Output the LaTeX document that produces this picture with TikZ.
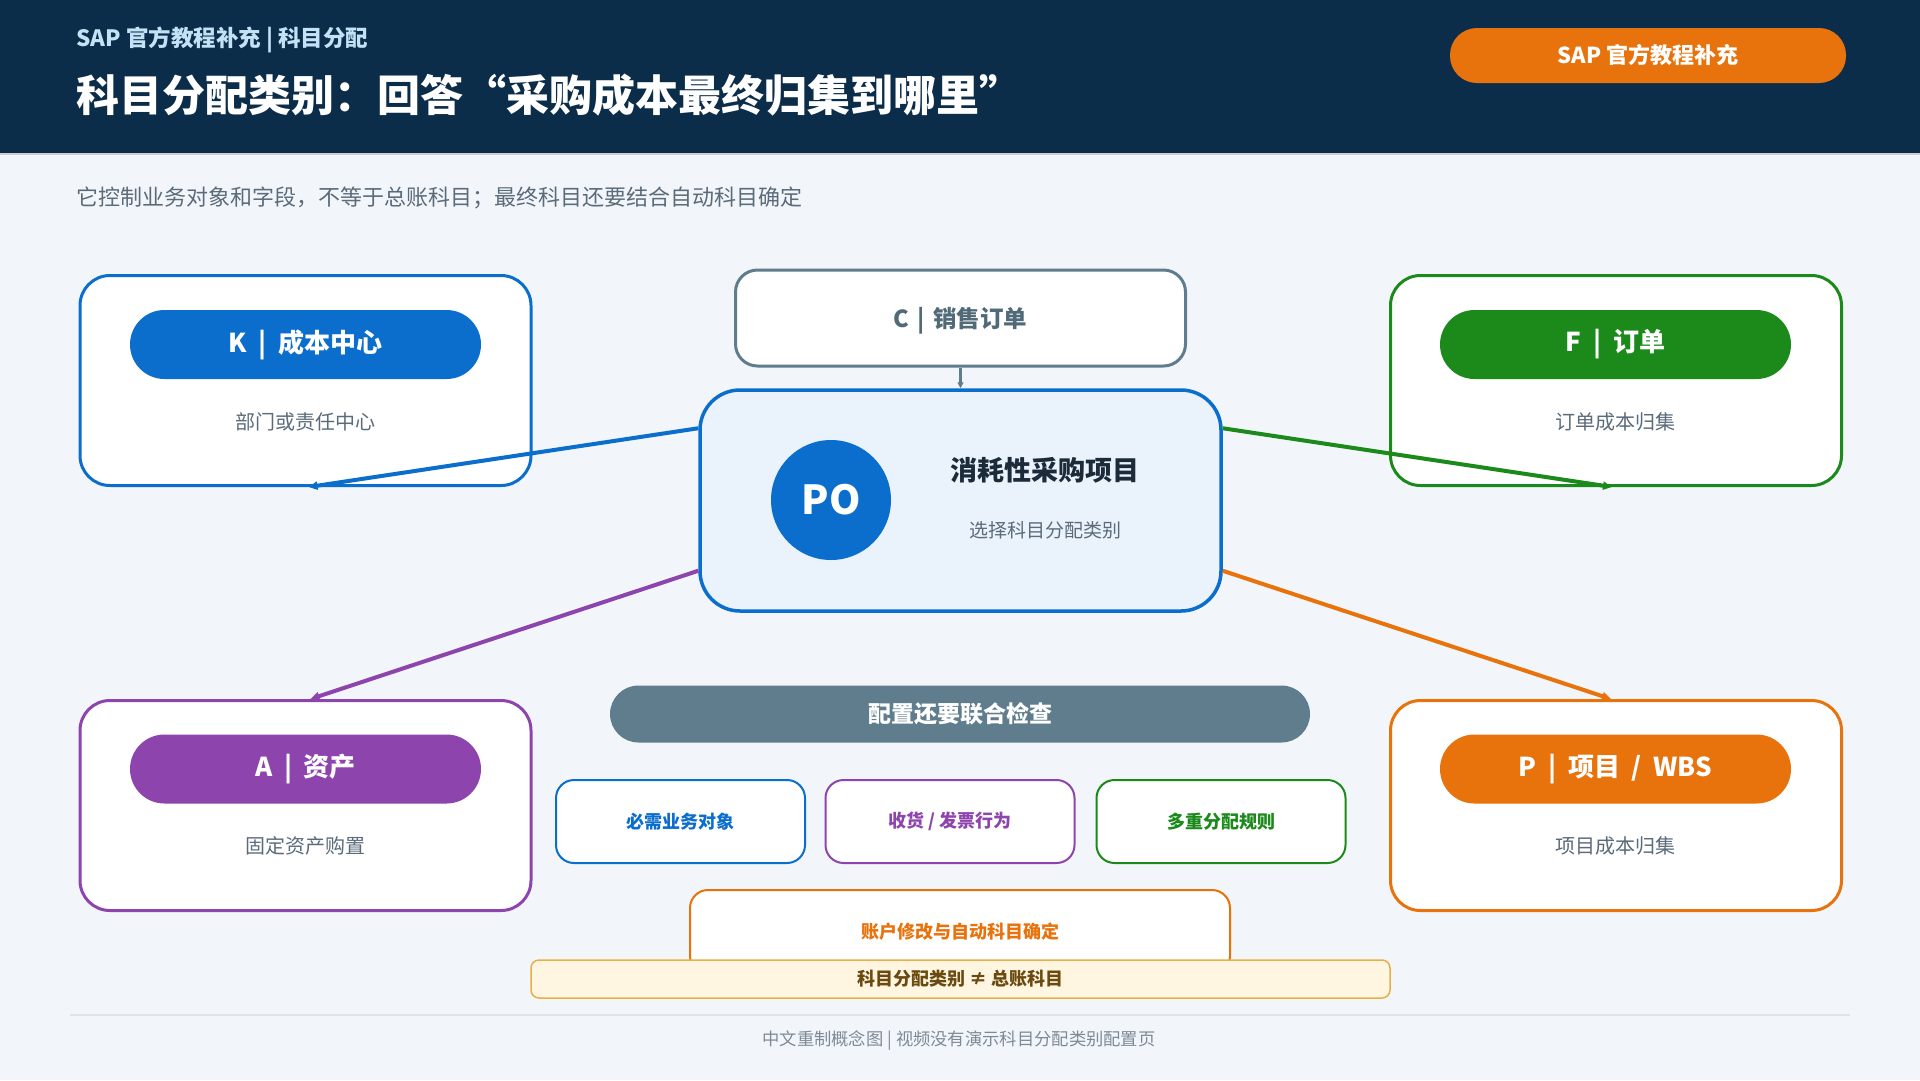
\documentclass[tikz,border=0pt]{standalone}
\usepackage{fontspec}
\setmainfont{Noto Sans CJK SC}
\usetikzlibrary{arrows.meta,calc}
\definecolor{navy}{HTML}{0C2D4A}
\definecolor{cblue}{HTML}{0B6ECD}
\definecolor{cgreen}{HTML}{1B8A1B}
\definecolor{cpurple}{HTML}{8E44AD}
\definecolor{corange}{HTML}{E8730C}
\definecolor{slate}{HTML}{5F7D8C}
\definecolor{bgc}{HTML}{F2F6FA}
\definecolor{pofill}{HTML}{EAF2FC}
\definecolor{subtxt}{HTML}{5B6B7A}
\definecolor{lightsub}{HTML}{C4E2F6}
\definecolor{darktxt}{HTML}{1C2B39}
\definecolor{barfill}{HTML}{FFF6E2}
\definecolor{barline}{HTML}{E9AE45}
\definecolor{bartxt}{HTML}{6B4A10}
\definecolor{sepline}{HTML}{DCE3EA}
\definecolor{foottxt}{HTML}{7D8A96}
\newcommand{\fs}[1]{\fontsize{#1}{#1}\selectfont}
\newcommand{\wsp}{\hspace{0.45em}}
\tikzset{
  bigbox/.style={draw=#1, line width=3pt, rounded corners=30pt, fill=white,
    minimum width=451pt, minimum height=210pt, inner sep=0pt},
  pill/.style={fill=#1, rounded corners=34.5pt, minimum width=351pt, minimum height=69pt,
    text=white, font=\bfseries\fs{26}, inner sep=0pt},
  subnote/.style={text=subtxt, font=\fs{20}, inner sep=0pt},
  conn/.style={draw=#1, line width=4pt, -{Triangle[length=9pt,width=8pt]}},
  checkbox/.style={draw=#1, line width=2pt, rounded corners=18pt, fill=white,
    minimum width=249pt, minimum height=83pt, text=#1, font=\bfseries\fs{18}, inner sep=0pt},
  plain/.style={inner sep=0pt}
}
\begin{document}
\begin{tikzpicture}[x=1pt,y=-1pt]
\useasboundingbox (0,0) rectangle (1920,1080);
\fill[bgc] (0,0) rectangle (1920,1080);
% header
\fill[navy] (0,0) rectangle (1920,154);
\draw[line width=1.5pt, color=sepline!80!gray] (0,154) -- (1920,154);
\node[plain, anchor=west, text=lightsub, font=\bfseries\fs{22.5}] (kicker) at (76,40) {SAP 官方教程补充 | 科目分配};
\node[plain, anchor=west, text=white, font=\bfseries\fs{43}] (title) at (76,95) {科目分配类别：回答“采购成本最终归集到哪里”};
\node[fill=corange, rounded corners=27pt, minimum width=396pt, minimum height=55pt, inner sep=0pt,
  text=white, font=\bfseries\fs{22}] (badge) at (1648,55.5) {SAP 官方教程补充};
\node[plain, anchor=west, text=subtxt, font=\fs{22}] (desc) at (76,198) {它控制业务对象和字段，不等于总账科目；最终科目还要结合自动科目确定};

% category boxes
\node[bigbox=cblue] (K) at (305.5,380.5) {};
\node[pill=cblue] (Kp) at (305.5,344.5) {K\wsp{}|\wsp{}成本中心};
\node[subnote] (Ks) at (305.5,422) {部门或责任中心};

\node[bigbox=cgreen] (F) at (1616,380.5) {};
\node[pill=cgreen] (Fp) at (1615.5,344.5) {F\wsp{}|\wsp{}订单};
\node[subnote] (Fs) at (1615.5,422) {订单成本归集};

\node[bigbox=cpurple] (A) at (305.5,805.5) {};
\node[pill=cpurple] (Ap) at (305.5,769) {A\wsp{}|\wsp{}资产};
\node[subnote] (As) at (305.5,846) {固定资产购置};

\node[bigbox=corange] (P) at (1616,805.5) {};
\node[pill=corange] (Pp) at (1615.5,769) {P\wsp{}|\wsp{}项目\wsp{}/\wsp{}WBS};
\node[subnote] (Ps) at (1615.5,846) {项目成本归集};

% C box
\node[draw=slate, line width=3pt, rounded corners=22pt, fill=white, minimum width=450pt,
  minimum height=96pt, inner sep=0pt] (C) at (960.5,318) {};
\node[plain, text=slate!85!black, font=\bfseries\fs{23.5}] (Ct) at (960.5,320.5) {C\hspace{0.35em}|\hspace{0.35em}销售订单};

% PO box
\node[draw=cblue, line width=3.5pt, rounded corners=40pt, fill=pofill, minimum width=521pt,
  minimum height=221pt, inner sep=0pt] (PO) at (960.5,500.5) {};
\node[circle, fill=cblue, minimum size=120pt, inner sep=0pt, text=white, font=\bfseries\fs{40}] (poc) at (831,500) {PO};
\node[plain, text=darktxt, font=\bfseries\fs{27}] (pot) at (1045,470) {消耗性采购项目};
\node[plain, text=subtxt, font=\fs{19}] (pos) at (1045,530) {选择科目分配类别};

% connectors
\draw[draw=slate, line width=2.5pt, -{Triangle[length=6pt,width=6pt]}] (C.south) -- (PO.north);
\coordinate (POlt) at ($(PO.north west)+(0,40)$);
\coordinate (POlb) at ($(PO.south west)+(0,-42)$);
\coordinate (PObrt) at ($(PO.north east)+(0,40)$);
\coordinate (PObrb) at ($(PO.south east)+(0,-42)$);
\draw[conn=cblue] (POlt) -- ($(K.south)+(3,0)$);
\draw[conn=cgreen] (PObrt) -- ($(F.south)+(-4,0)$);
\draw[conn=cpurple] (POlb) -- ($(A.north)+(5,0)$);
\draw[conn=corange] (PObrb) -- ($(P.north)+(-5,0)$);

% check section
\node[fill=slate, rounded corners=28.5pt, minimum width=700pt, minimum height=57pt, inner sep=0pt,
  text=white, font=\bfseries\fs{23}] (chk) at (960,714) {配置还要联合检查};
\node[checkbox=cblue] (b1) at (680.5,821.5) {必需业务对象};
\node[checkbox=cpurple] (b2) at (950,821.5) {收货 / 发票行为};
\node[checkbox=cgreen] (b3) at (1221,821.5) {多重分配规则};
\node[draw=corange, line width=2pt, rounded corners=18pt, fill=white, minimum width=540pt,
  minimum height=84pt, inner sep=0pt] (acct) at (960,932) {};
\node[plain, text=corange, font=\bfseries\fs{18}] (acctt) at (960,932) {账户修改与自动科目确定};
\node[draw=barline, line width=1.5pt, rounded corners=8pt, fill=barfill, minimum width=859pt,
  minimum height=38pt, inner sep=0pt, text=bartxt, font=\bfseries\fs{18}] (bar) at (960.5,979) {科目分配类别 ≠ 总账科目};

% footer
\draw[sepline, line width=2pt] (70,1015) -- (1850,1015);
\node[plain, text=foottxt, font=\fs{17.3}] (foot) at (959,1040) {中文重制概念图 | 视频没有演示科目分配类别配置页};
\end{tikzpicture}
\end{document}
